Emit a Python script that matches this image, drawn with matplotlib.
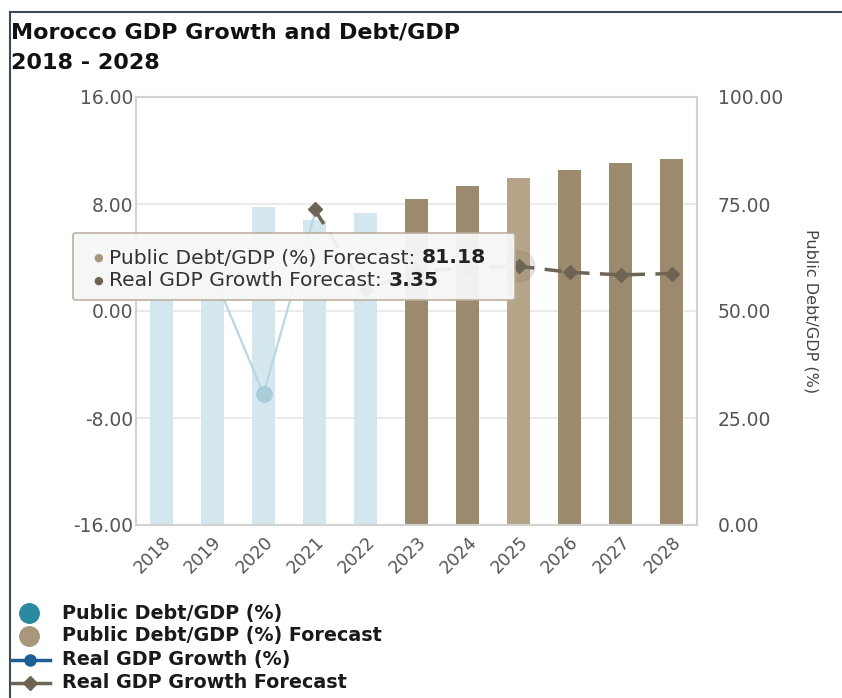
import matplotlib
matplotlib.use("Agg")
import matplotlib.pyplot as plt
from matplotlib.lines import Line2D
from matplotlib.patches import FancyBboxPatch
import numpy as np

plt.rcParams["font.family"] = ["DejaVu Sans"]

years = ["2018", "2019", "2020", "2021", "2022", "2023", "2024", "2025", "2026", "2027", "2028"]
debt_actual = [65.2, 64.9, 74.3, 71.3, 72.9]
debt_forecast = [76.2, 79.2, 81.18, 82.9, 84.6, 85.5]
growth_actual = [3.1, 2.9, -6.2, 7.2]
growth_forecast = [7.6, 1.6, 3.0, 3.2, 3.35, 2.9, 2.7, 2.8]

x = np.arange(len(years))
x_debt_act = x[:5]
x_debt_fc = x[5:]
x_gr_act = x[:4]
x_gr_fc = x[3:]

W, H = 842, 698


def fx(px):
    return px / W


def fy(py):
    return 1 - py / H


fig = plt.figure(figsize=(8.42, 6.98), dpi=100)
ax = fig.add_axes([fx(136), fy(525), 561 / W, 428 / H])
ax2 = ax.twinx()

# barres de dette sur l'axe de droite, grille derriere les barres
bar_fc_colors = ["#9c8a6f"] * len(debt_forecast)
bar_fc_colors[2] = "#b5a487"
ax2.set_axisbelow(True)
ax2.grid(axis="y", color="#e6e6e6", lw=1.2)
ax2.bar(x_debt_act, debt_actual, width=0.45, color="#d4e7ee", zorder=2)
ax2.bar(x_debt_fc, debt_forecast, width=0.45, color=bar_fc_colors, zorder=2)
ax2.set_ylim(0, 100)
ax2.set_yticks([0, 25, 50, 75, 100])
ax2.set_yticklabels(["0.00", "25.00", "50.00", "75.00", "100.00"])

# croissance sur l'axe de gauche
ax.set_zorder(ax2.get_zorder() + 1)
ax.patch.set_visible(False)
ax.plot(x_gr_act, growth_actual, color="#b8d7e2", lw=1.6, zorder=3)
ax.plot(x_gr_act[2], growth_actual[2], "o", color="#a9cddb", ms=11, zorder=3)
ax.plot(x_gr_fc, growth_forecast, color="#6e6454", lw=2.5, ls=(0, (5, 3)),
        marker="D", ms=7, zorder=4)
ax.plot(x_gr_fc[4], growth_forecast[4], "o", color="#6e6454", alpha=0.15, ms=22, zorder=3)
ax.set_ylim(-16, 16)
ax.set_yticks([-16, -8, 0, 8, 16])
ax.set_yticklabels(["-16.00", "-8.00", "0.00", "8.00", "16.00"])
ax.set_xlim(-0.5, len(years) - 0.5)
ax.set_xticks(x)
ax.set_xticklabels(years, rotation=45, ha="right", rotation_mode="anchor")

for a in (ax, ax2):
    for s in a.spines.values():
        s.set_color("#d2d2d2")
        s.set_linewidth(1.5)
    a.tick_params(length=0, labelsize=13.5, labelcolor="#555555")
ax.tick_params(axis="y", pad=2)
ax2.tick_params(axis="y", pad=15)
ax.tick_params(axis="x", pad=6, labelsize=12.5)
fig.text(fx(811), fy(311), "Public Debt/GDP (%)", rotation=-90, fontsize=11.5,
         color="#444444", ha="center", va="center")

# bordure de la carte
fig.add_artist(Line2D([fx(10), fx(10)], [0, fy(12)], color="#3d4a5c", lw=1.5))
fig.add_artist(Line2D([fx(10), 1], [fy(12), fy(12)], color="#3d4a5c", lw=1.5))

fig.text(fx(11), fy(33), "Morocco GDP Growth and Debt/GDP", fontsize=16,
         fontweight="bold", color="#111111", va="center")
fig.text(fx(11), fy(63), "2018 - 2028", fontsize=16,
         fontweight="bold", color="#111111", va="center")

# infobulle
box = FancyBboxPatch((fx(73), fy(300)), 442 / W, 67 / H,
                     boxstyle="round,pad=0,rounding_size=0.004", transform=fig.transFigure,
                     facecolor="#f7f7f7", edgecolor="#b9ad9a", lw=1.2, alpha=0.95, zorder=10)
fig.add_artist(box)
fig.text(fx(98), fy(258), "\u25cf", color="#a8977c", fontsize=8, ha="center",
         va="center", zorder=11)
fig.text(fx(98), fy(281), "\u25cf", color="#6e6454", fontsize=8, ha="center",
         va="center", zorder=11)
t1 = fig.text(fx(109), fy(258), "Public Debt/GDP (%) Forecast: ", fontsize=14.6,
              color="#333333", va="center", zorder=11)
t2 = fig.text(fx(109), fy(281), "Real GDP Growth Forecast: ", fontsize=14.6,
              color="#333333", va="center", zorder=11)
fig.canvas.draw()
r = fig.canvas.get_renderer()
e1 = t1.get_window_extent(r)
e2 = t2.get_window_extent(r)
fig.text(e1.x1 / W, fy(258), "81.18", fontsize=14.6, fontweight="bold",
         color="#222222", va="center", zorder=11)
fig.text(e2.x1 / W, fy(281), "3.35", fontsize=14.6, fontweight="bold",
         color="#222222", va="center", zorder=11)

# légende
leg_labels = ["Public Debt/GDP (%)", "Public Debt/GDP (%) Forecast",
              "Real GDP Growth (%)", "Real GDP Growth Forecast"]
leg_y = [613, 636, 660, 683]
fig.add_artist(Line2D([fx(29)], [fy(leg_y[0])], marker="o", ms=14,
                      color="#2a8aa0", ls="none"))
fig.add_artist(Line2D([fx(29)], [fy(leg_y[1])], marker="o", ms=14,
                      color="#a8977c", ls="none"))
fig.add_artist(Line2D([fx(12), fx(50)], [fy(leg_y[2])] * 2, color="#1d5f95", lw=2.5))
fig.add_artist(Line2D([fx(30)], [fy(leg_y[2])], marker="o", ms=8,
                      color="#1d5f95", ls="none"))
fig.add_artist(Line2D([fx(12), fx(50)], [fy(leg_y[3])] * 2, color="#6e6454", lw=2.5))
fig.add_artist(Line2D([fx(30)], [fy(leg_y[3])], marker="D", ms=7,
                      color="#6e6454", ls="none"))
for lab, yy in zip(leg_labels, leg_y):
    fig.text(fx(62), fy(yy), lab, fontsize=13.8, fontweight="bold",
             color="#1a1a1a", va="center")

fig.savefig("out.png", dpi=100)
